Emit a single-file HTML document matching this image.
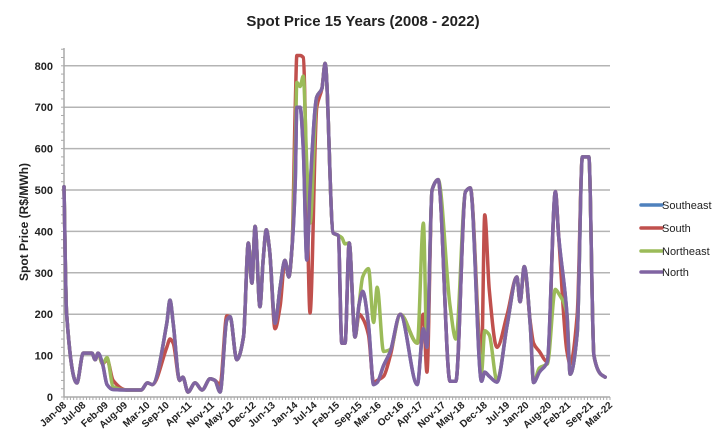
<!DOCTYPE html>
<html><head><meta charset="utf-8">
<style>
html,body{margin:0;padding:0;background:#fff;}
svg{display:block;font-family:"Liberation Sans",sans-serif;}
</style></head>
<body>
<svg id="chart" width="726" height="443" viewBox="0 0 726 443">
<text x="363" y="26" text-anchor="middle" font-size="15" font-weight="bold" fill="#222">Spot Price 15 Years (2008 - 2022)</text>
<text transform="translate(28,222) rotate(-90)" text-anchor="middle" font-size="12" font-weight="bold" fill="#222">Spot Price (R$/MWh)</text>
<g id="grid"></g><g id="axes"></g><g id="series"></g><g id="legend"></g>
</svg>
<script>
const months = [0,0.8,4,6,8.7,9.7,10.6,12,13.4,15.3,19.5,24,26,27.5,32,33,34,36,37,38.6,40.8,43,45.5,47,48.6,50.7,51.7,53.8,55.9,57.4,58.5,59.5,61,62,63,64,65.7,67.3,68.8,70,71,72,72.5,73.5,74.5,75.6,76.6,78.7,80.3,81.3,83.8,85.4,86.5,87.5,88.8,90.6,91.9,93,94.8,96.4,97.5,99.5,101.6,104.7,110,111.9,113,114.6,116.5,120.2,122,125,126.5,130,131,132.4,134.8,138,141,142,143.3,145.2,146.2,148,150.5,153,154,156.6,157.6,159.8,161.4,163.4,165,167,168.5];
const north = [508,203,34,106,106,90,106,80,30,18,17,17,34,30,178,234,178,40,48,12,34,17,44,40,12,186,194,90,146,372,275,412,218,330,404,355,178,266,330,290,362,520,700,700,600,331,500,725,745,806,396,390,130,130,372,145,225,255,175,30,35,76,110,200,30,165,120,500,525,38,38,496,505,38,60,50,36,175,290,230,315,170,35,60,85,496,390,200,55,155,580,580,100,56,48];
const southeast = north.slice();
const south = [508,203,34,106,106,90,106,80,90,40,17,17,34,30,120,140,130,40,48,12,34,17,44,40,30,196,194,90,146,372,275,412,218,330,404,355,165,220,330,290,362,700,825,825,820,500,203,700,745,806,396,390,130,130,372,145,200,190,150,35,40,50,100,200,130,200,60,500,525,38,38,496,505,90,440,260,120,200,290,230,315,180,130,110,85,496,390,110,80,200,580,580,100,56,48];
const northeast = [508,203,34,106,106,90,106,80,95,25,17,17,34,30,178,234,178,40,48,12,34,17,44,40,12,186,194,90,146,372,275,412,218,330,404,355,178,266,330,290,362,600,760,750,775,560,420,725,745,806,396,390,385,370,372,145,225,290,310,180,265,110,115,200,130,420,120,500,525,220,140,496,505,60,160,150,40,175,290,230,315,170,35,70,80,260,250,200,55,155,580,580,100,56,48];
const yTicks = [0,100,200,300,400,500,600,700,800];
const xLabels = ["Jan-08","Jul-08","Feb-09","Aug-09","Mar-10","Sep-10","Apr-11","Nov-11","May-12","Dec-12","Jun-13","Jan-14","Jul-14","Feb-15","Sep-15","Mar-16","Oct-16","Apr-17","Nov-17","May-18","Dec-18","Jul-19","Jan-20","Aug-20","Feb-21","Sep-21","Mar-22"];
const xLabelMonths = [0,6,13,19,26,32,39,46,52,59,65,72,78,85,92,98,105,111,118,124,131,138,144,151,157,164,170];
const seriesNames = ["Southeast","South","Northeast","North"];
const seriesColors = ["#4F81BD","#C0504D","#9BBB59","#8064A2"];

const NS="http://www.w3.org/2000/svg";
const X0=64,X1=610,Y0=397,PPU=0.414;
const xs=m=>X0+m*(X1-X0)/170;
const ys=v=>Y0-v*PPU;
function mk(t,a,p){const e=document.createElementNS(NS,t);for(const k in a)e.setAttribute(k,a[k]);p.appendChild(e);return e;}
const grid=document.getElementById('grid'),axes=document.getElementById('axes'),ser=document.getElementById('series'),leg=document.getElementById('legend');
yTicks.forEach(v=>{
  if(v>0){const l=mk('line',{x1:X0,x2:X1,y1:ys(v),y2:ys(v),stroke:'#b4b4b4','stroke-width':1.5},grid);
  
  }
  const t=mk('text',{x:53,y:ys(v)+4,'text-anchor':'end','font-size':11,'font-weight':'bold',fill:'#222'},axes);
  t.textContent=v;
  
  
});
mk('line',{x1:X0,x2:X0,y1:48,y2:Y0,stroke:'#aaa','stroke-width':1.5},axes);
mk('line',{x1:X0,x2:X1,y1:Y0,y2:Y0,stroke:'#aaa','stroke-width':1.5},axes);
for(let m=0;m<=170;m++){mk('line',{x1:xs(m),x2:xs(m),y1:Y0,y2:Y0+3,stroke:'#aaa','stroke-width':1},axes);}
for(let v=0;v<=850;v+=20){mk('line',{x1:X0-3,x2:X0,y1:ys(v),y2:ys(v),stroke:'#aaa','stroke-width':1},axes);}
xLabels.forEach((lab,i)=>{
  const x=xs(xLabelMonths[i])+3,y=Y0+9;
  const t=mk('text',{x:x,y:y,'text-anchor':'end','font-size':10,'font-weight':'bold',fill:'#222',transform:`rotate(-42 ${x} ${y})`},axes);
  t.textContent=lab;
  
  
});
function monotone(pts){
  const n=pts.length,dx=[],s=[],m=[];
  for(let i=0;i<n-1;i++){dx[i]=pts[i+1][0]-pts[i][0];s[i]=(pts[i+1][1]-pts[i][1])/dx[i];}
  m[0]=s[0];m[n-1]=s[n-2];
  for(let i=1;i<n-1;i++){
    if(s[i-1]*s[i]<=0)m[i]=0;
    else{const w1=2*dx[i]+dx[i-1],w2=dx[i]+2*dx[i-1];m[i]=(w1+w2)/(w1/s[i-1]+w2/s[i]);}
  }
  let d=`M${pts[0][0]},${pts[0][1]}`;
  for(let i=0;i<n-1;i++){
    const h=dx[i]/3;
    d+=` C${pts[i][0]+h},${pts[i][1]+m[i]*h} ${pts[i+1][0]-h},${pts[i+1][1]-m[i+1]*h} ${pts[i+1][0]},${pts[i+1][1]}`;
  }
  return d;
}
[southeast,south,northeast,north].forEach((vals,i)=>{
  const pts=months.map((m,j)=>[xs(m),ys(vals[j])]);
  const p=mk('path',{d:monotone(pts),fill:'none',stroke:seriesColors[i],'stroke-width':3.5,'stroke-linejoin':'round','stroke-linecap':'round'},ser);
  
  
});
const legY=[205,228,251,272];
seriesNames.forEach((n,i)=>{
  const g=mk('g',{},leg);
  
  
  mk('line',{x1:641,x2:662,y1:legY[i],y2:legY[i],stroke:seriesColors[i],'stroke-width':3.5,'stroke-linecap':'round'},g);
  const t=mk('text',{x:662,y:legY[i]+4,'font-size':11,fill:'#222'},g);
  t.textContent=n;
});
</script>
</body></html>
